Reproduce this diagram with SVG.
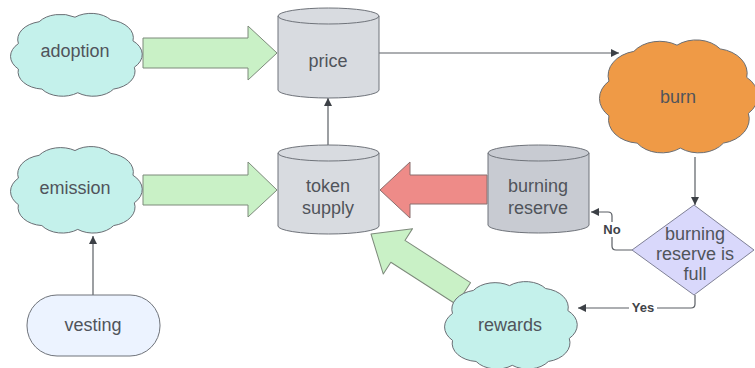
<svg xmlns="http://www.w3.org/2000/svg" width="755" height="368" viewBox="0 0 755 368">
  <defs>
    <style>
      .lbl { font-family: "Liberation Sans", Arial, sans-serif; font-size: 18px; fill: #50545b; text-anchor: middle; }
      .tag { font-family: "Liberation Sans", Arial, sans-serif; font-size: 13px; font-weight: bold; fill: #3f4348; text-anchor: middle; }
      .cloud-cyan { fill: #c4f1eb; }
      .cloud-orange { fill: #ef9a46; }
      .cyl { stroke: #6f737a; stroke-width: 1; }
      .cyl-light { fill: #d8dbe0; }
      .cyl-dark { fill: #c8cbd2; }
      .cap { fill: none; stroke: #6f737a; stroke-width: 1; }
      .block-green { fill: #c9f1c6; stroke: #7d8a7b; stroke-width: 1; stroke-linejoin: round; }
      .block-red { fill: #ee8b88; stroke: #8a6f6e; stroke-width: 1; stroke-linejoin: round; }
      .wire { fill: none; stroke: #5a5e64; stroke-width: 1.2; }
    </style>
    <!-- generic cloud outline in a 100x100 box -->
    <path id="cloud" vector-effect="non-scaling-stroke" stroke="#6a6e74" stroke-width="1"
      d="M9,38 A20,20 0 0 1 24,14 A19,19 0 0 1 50,9 A18,18 0 0 1 76,12 A20,20 0 0 1 92,35 A20,20 0 0 1 93,64 A20,20 0 0 1 78,88 A18,18 0 0 1 52,92 A18,18 0 0 1 26,88 A19,19 0 0 1 9,66 A20,20 0 0 1 9,38 Z"/>
    <marker id="tip" viewBox="0 0 10 10" refX="10" refY="5" markerWidth="8" markerHeight="8" markerUnits="userSpaceOnUse" orient="auto">
      <path d="M0,0 L10,5 L0,10 Z" fill="#3c4046"/>
    </marker>
  </defs>

  <rect width="755" height="368" fill="#ffffff"/>

  <!-- flow connectors -->
  <g id="connectors">
    <polygon class="block-green" points="143,38 248,38 248,26 277,53 248,80 248,68 143,68"/>
    <polygon class="block-green" points="143,175 248,175 248,162 277,190 248,217 248,205 143,205"/>
    <polygon class="block-red" points="487,175 410,175 410,162 380,190 410,218 410,204 487,204"/>
    <polygon class="block-green" transform="translate(371,234) rotate(212.8)" points="0,0 -32,-27 -32,-13 -110,-13 -110,13 -32,13 -32,27"/>

    <path class="wire" d="M379,53 H619" marker-end="url(#tip)"/>
    <path class="wire" d="M695,157 V205" marker-end="url(#tip)"/>
    <path class="wire" d="M328,145 V98" marker-end="url(#tip)"/>
    <path class="wire" d="M93,295 V236" marker-end="url(#tip)"/>
    <path class="wire" d="M632,250 H616 Q612,250 612,246 V216 Q612,212 608,212 H591" marker-end="url(#tip)"/>
    <path class="wire" d="M695,295 V304 Q695,308 691,308 H578" marker-end="url(#tip)"/>

    <rect x="601" y="222" width="22" height="15" fill="#ffffff"/>
    <text class="tag" x="612" y="234">No</text>
    <rect x="629" y="301" width="28" height="14" fill="#ffffff"/>
    <text class="tag" x="643" y="312">Yes</text>
  </g>

  <g id="adoption">
    <use href="#cloud" class="cloud-cyan" transform="translate(6,9) scale(1.38,0.91)"/>
    <text class="lbl" x="75" y="57">adoption</text>
  </g>

  <g id="emission">
    <use href="#cloud" class="cloud-cyan" transform="translate(6,142) scale(1.38,0.95)"/>
    <text class="lbl" x="75" y="194">emission</text>
  </g>

  <g id="vesting">
    <rect x="27" y="295" width="133" height="61" rx="30" ry="30" fill="#ecf3ff" stroke="#6f737a" stroke-width="1"/>
    <text class="lbl" x="93" y="331">vesting</text>
  </g>

  <g id="price">
    <path class="cyl cyl-light" d="M278,16 A50.5,8 0 0 1 379,16 V90 A50.5,8 0 0 1 278,90 Z"/>
    <path class="cap" d="M278,16 A50.5,8 0 0 0 379,16"/>
    <text class="lbl" x="328" y="67">price</text>
  </g>

  <g id="token-supply">
    <path class="cyl cyl-light" d="M278,153 A50.5,8 0 0 1 379,153 V226 A50.5,8 0 0 1 278,226 Z"/>
    <path class="cap" d="M278,153 A50.5,8 0 0 0 379,153"/>
    <text class="lbl" x="328" y="192">token</text>
    <text class="lbl" x="328" y="214">supply</text>
  </g>

  <g id="burning-reserve">
    <path class="cyl cyl-dark" d="M488,153 A50.5,8 0 0 1 589,153 V225 A50.5,8 0 0 1 488,225 Z"/>
    <path class="cap" d="M488,153 A50.5,8 0 0 0 589,153"/>
    <text class="lbl" x="538" y="192">burning</text>
    <text class="lbl" x="538" y="214">reserve</text>
  </g>

  <g id="burn">
    <use href="#cloud" class="cloud-orange" transform="translate(594,34) scale(1.66,1.24)"/>
    <text class="lbl" x="678" y="103">burn</text>
  </g>

  <g id="reserve-full">
    <polygon points="694,205 754,250 694,295 632,250" fill="#d9d8fb" stroke="#7f8096" stroke-width="1"/>
    <text class="lbl" x="695" y="240">burning</text>
    <text class="lbl" x="695" y="260">reserve is</text>
    <text class="lbl" x="695" y="280">full</text>
  </g>

  <g id="rewards">
    <use href="#cloud" class="cloud-cyan" transform="translate(440,277) scale(1.39,0.96)"/>
    <text class="lbl" x="510" y="331">rewards</text>
  </g>
</svg>
